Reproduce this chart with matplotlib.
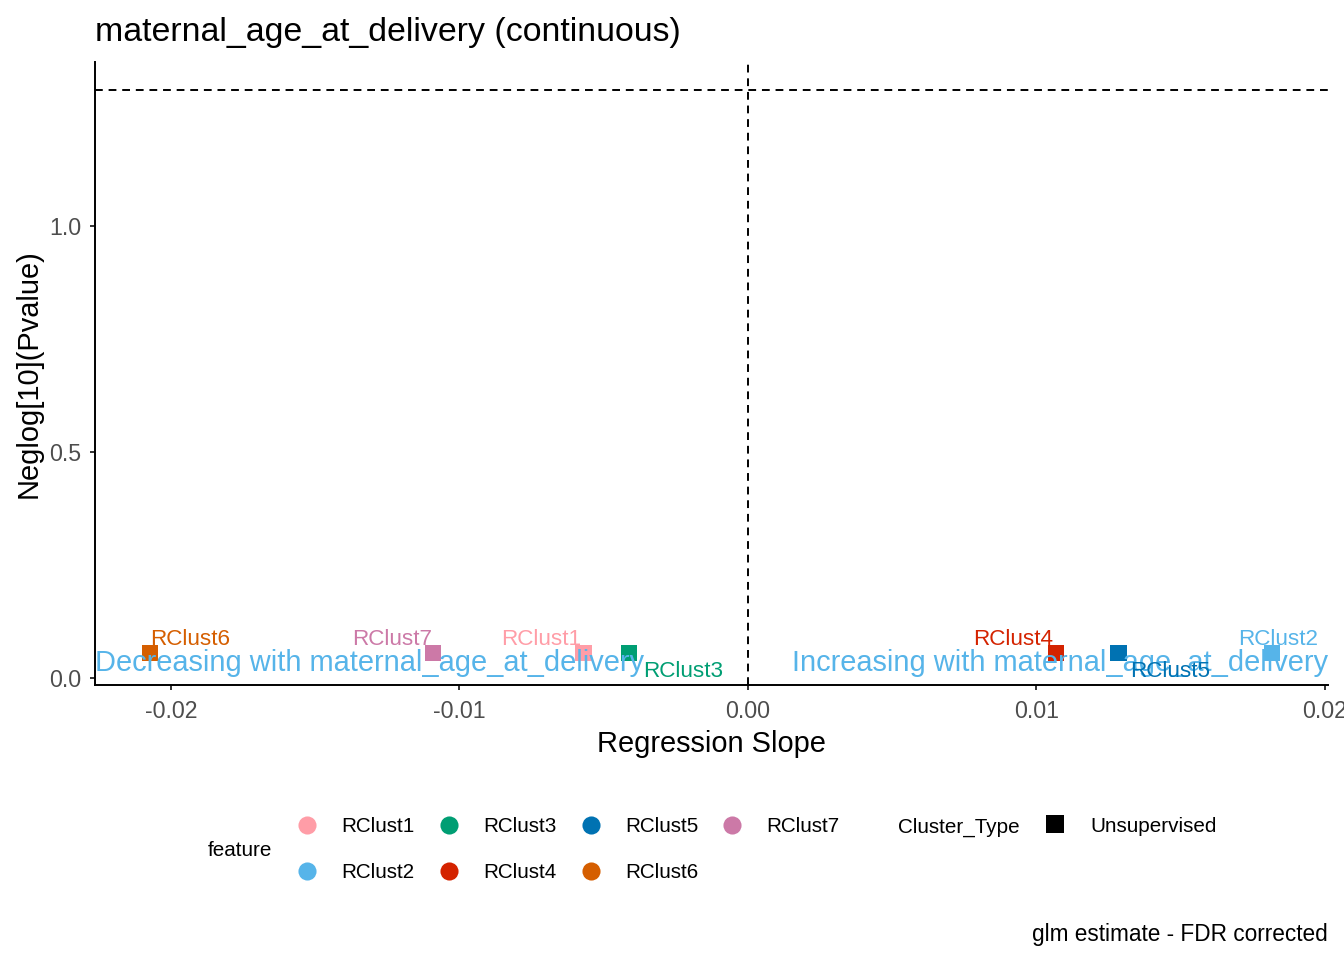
import matplotlib
matplotlib.use("Agg")
import matplotlib.pyplot as plt

plt.rcParams['font.family'] = ['Liberation Sans', 'DejaVu Sans']

# ---- data ----
features = ["RClust1", "RClust2", "RClust3", "RClust4", "RClust5", "RClust6", "RClust7"]
slopes = [-0.00570, 0.01816, -0.00412, 0.01068, 0.01284, -0.02073, -0.01092]
neglog_p = [0.055, 0.055, 0.055, 0.055, 0.055, 0.055, 0.055]
colors = ["#FF9DA7", "#56B4E9", "#009E73", "#D42300", "#0072B2", "#D55E00", "#CC79A7"]
x_ticks = [-0.02, -0.01, 0.0, 0.01, 0.02]
x_ticklabels = ["-0.02", "-0.01", "0.00", "0.01", "0.02"]
y_ticks = [0.0, 0.5, 1.0]
y_ticklabels = ["0.0", "0.5", "1.0"]
sig_line = 1.30103  # -log10(0.05)
title = "maternal_age_at_delivery (continuous)"
caption = "glm estimate - FDR corrected"
exposure = "maternal_age_at_delivery"

# label offsets (px) for repelled labels: (dx, dy baseline relative to point centre)
label_offsets_px = {
    "RClust1": (-42, -8), "RClust2": (6, -8), "RClust3": (54, 24),
    "RClust4": (-43, -8), "RClust5": (52, 24), "RClust6": (40, -8),
    "RClust7": (-41, -8),
}

W, H = 1344, 960
fig = plt.figure(figsize=(W / 100, H / 100), dpi=100)
fig.patch.set_facecolor("white")

# legend / overlay axes in pixel coordinates
lax = fig.add_axes([0, 0, 1, 1])
lax.set_xlim(0, W)
lax.set_ylim(H, 0)
lax.axis("off")

ax = fig.add_axes([95 / W, 1 - 685 / H, (1328 - 95) / W, (685 - 62) / H])
ax.set_xlim(-0.022634, 0.020104)
ax.set_ylim(-0.0155, 1.3628)
ax.set_facecolor("none")

for s in ["top", "right"]:
    ax.spines[s].set_visible(False)
for s in ["left", "bottom"]:
    ax.spines[s].set_linewidth(1.4)
    ax.spines[s].set_color("black")

ax.set_xticks(x_ticks)
ax.set_xticklabels(x_ticklabels)
ax.set_yticks(y_ticks)
ax.set_yticklabels(y_ticklabels)
ax.tick_params(axis="both", colors="#333333", labelcolor="#4D4D4D",
               labelsize=16.7, length=3.6, width=1.4)
ax.tick_params(axis="x", pad=7)
ax.tick_params(axis="y", pad=6)

ax.axhline(sig_line, color="black", lw=1.4, ls=(0, (4, 3)), zorder=1)
ax.axvline(0, color="black", lw=1.4, ls=(0, (4, 3)), zorder=1)

ax.scatter(slopes, neglog_p, marker="s", s=135, c=colors, linewidths=0, zorder=3)

xmin, xmax = ax.get_xlim()
ax.text(xmin, 0.0155, "Decreasing with " + exposure, ha="left", va="baseline",
        fontsize=20.9, color="#56B4E9", zorder=4)
ax.text(xmax, 0.0155, "Increasing with " + exposure, ha="right", va="baseline",
        fontsize=20.9, color="#56B4E9", zorder=4)

for f, xv, yv, c in zip(features, slopes, neglog_p, colors):
    dx, dy = label_offsets_px[f]
    ax.annotate(f, (xv, yv), xytext=(dx * 0.72, -dy * 0.72), textcoords="offset points",
                ha="center", va="baseline", fontsize=16.2, color=c, zorder=5)

ax.set_xlabel("Regression Slope", fontsize=20.9, color="black", labelpad=5.5)
ax.set_ylabel("Neglog[10](Pvalue)", fontsize=20.9, color="black", labelpad=5)

fig.text(95 / W, 1 - 41 / H, title, ha="left", va="baseline", fontsize=24.4, color="black")
fig.text(1328 / W, 1 - 941 / H, caption, ha="right", va="baseline", fontsize=16.3, color="black")

# ---- legend ----
lax.text(208, 851, "feature", ha="left", va="center", fontsize=14.9, color="black")
col_x = [307, 449, 591, 732]
row_y = [825, 871]
for i, (f, c) in enumerate(zip(features, colors)):
    cx = col_x[i // 2]
    cy = row_y[i % 2]
    lax.scatter([cx], [cy], s=170, color=c, marker="o", linewidths=0)
    lax.text(cx + 34, cy + 2, f, ha="left", va="center", fontsize=14.9, color="black")
lax.text(898, 827, "Cluster_Type", ha="left", va="center", fontsize=14.9, color="black")
lax.scatter([1055], [824], s=150, color="black", marker="s", linewidths=0)
lax.text(1090, 827, "Unsupervised", ha="left", va="center", fontsize=14.9, color="black")

fig.savefig("out.png", dpi=100, facecolor="white")
